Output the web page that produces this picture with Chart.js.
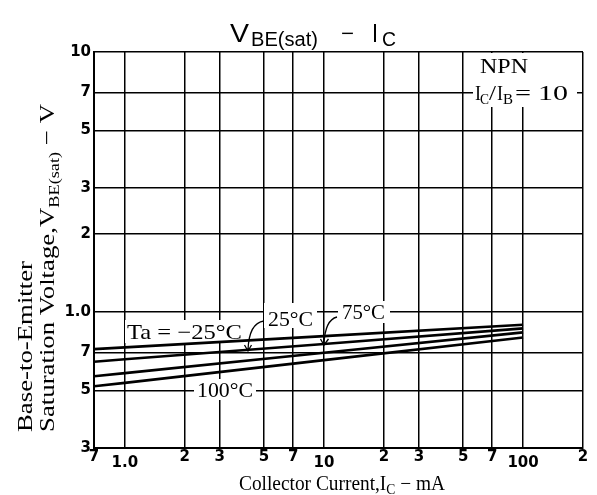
<!DOCTYPE html>
<html><head><meta charset="utf-8">
<script src="https://cdn.jsdelivr.net/npm/chart.js@4/dist/chart.umd.min.js"></script>
<style>html,body{margin:0;padding:0;background:#fff}canvas{display:block}</style>
</head><body>
<canvas id="c" width="597" height="495"></canvas>
<script>
// ---- data ----
const currentMA = [0.7, 1, 10, 100];
const vTaM25 = [0.72, 0.731, 0.808, 0.893];
const vTa25 = [0.644, 0.658, 0.754, 0.865];
const vTa75 = [0.566, 0.582, 0.697, 0.835];
const vTa100 = [0.518, 0.534, 0.653, 0.798];
const seriesNames = ['Ta = −25°C', '25°C', '75°C', '100°C'];
const xTickValues = [0.7, 1, 2, 3, 5, 7, 10, 20, 30, 50, 70, 100, 200];
const xTickLabels = ['7', '1.0', '2', '3', '5', '7', '10', '2', '3', '5', '7', '100', '2'];
const yTickValues = [0.3, 0.5, 0.7, 1, 2, 3, 5, 7, 10];
const yTickLabels = ['3', '5', '7', '1.0', '2', '3', '5', '7', '10'];
const decadeX = [1, 10, 100];

const SERIF = '"Liberation Serif","Times New Roman",serif';
const SANS = '"Liberation Sans",Arial,sans-serif';

function pts(ys){ return currentMA.map((x,i)=>({x:x, y:ys[i]})); }

// draw text starting at x (baseline y), stretched horizontally to targetW
function fit(ctx, s, x, y, size, targetW, font){
  ctx.save();
  ctx.font = size + 'px ' + (font || SERIF);
  ctx.textBaseline = 'alphabetic';
  ctx.textAlign = 'left';
  const w = ctx.measureText(s).width;
  const sx = targetW ? targetW / w : 1;
  ctx.translate(x, y);
  ctx.scale(sx, 1);
  ctx.fillStyle = '#000';
  ctx.fillText(s, 0, 0);
  ctx.restore();
  return w * sx;
}
// composite text with subscripts: parts [{t, sub}]
function compose(ctx, parts, x, y, size, subSize, subDy, targetW, font){
  ctx.save();
  let nat = 0;
  parts.forEach(p => { ctx.font = (p.sub ? subSize : size) + 'px ' + (font || SERIF); nat += ctx.measureText(p.t).width; });
  ctx.restore();
  const sx = targetW / nat;
  let cx = x;
  parts.forEach(p => {
    ctx.save();
    ctx.font = (p.sub ? subSize : size) + 'px ' + (font || SERIF);
    const w = ctx.measureText(p.t).width;
    ctx.restore();
    fit(ctx, p.t, cx, y + (p.sub ? subDy : 0), p.sub ? subSize : size, w * sx, font);
    cx += w * sx;
  });
}

const deco = {
  id: 'deco',
  beforeDatasetsDraw(chart){
    const ctx = chart.ctx;
    ctx.save();
    ctx.fillStyle = '#fff';
    ctx.fillRect(125, 320, 120, 23);   // Ta = -25°C
    ctx.fillRect(264, 303, 53, 25);    // 25°C
    ctx.fillRect(338, 301, 52, 22);    // 75°C
    ctx.fillRect(194, 379, 62, 21);    // 100°C
    ctx.fillRect(473, 53, 104, 54);    // NPN box
    ctx.restore();
  },
  afterDatasetsDraw(chart){
    const ctx = chart.ctx;
    fit(ctx, seriesNames[0], 127, 339, 21, 115);
    fit(ctx, seriesNames[1], 268, 326, 20, 45);
    fit(ctx, seriesNames[2], 342, 319, 20, 43);
    fit(ctx, seriesNames[3], 197, 397, 20, 56);
    fit(ctx, 'NPN', 480, 73, 20, 48);
    // I_C/I_B = 10
    fit(ctx, 'I', 475, 100, 20, 6);
    fit(ctx, 'C', 480, 104, 14, 9);
    fit(ctx, '/', 489, 100, 20, 7);
    fit(ctx, 'I', 497, 100, 20, 6);
    fit(ctx, 'B', 503, 104, 14, 10);
    fit(ctx, '=', 515, 100, 20, 16);
    fit(ctx, '10', 538, 100, 20, 30);
    // leaders
    ctx.save();
    ctx.strokeStyle = '#000';
    ctx.lineWidth = 1.3;
    ctx.beginPath();
    ctx.moveTo(264, 321); ctx.quadraticCurveTo(249, 323, 248, 350);
    ctx.moveTo(244.5, 345); ctx.lineTo(248, 351); ctx.lineTo(251.5, 345);
    ctx.moveTo(337, 317); ctx.quadraticCurveTo(325, 320, 324, 344);
    ctx.moveTo(320.5, 339); ctx.lineTo(324, 345); ctx.lineTo(328.5, 339);
    ctx.stroke();
    ctx.restore();
  },
  afterDraw(chart){
    const ctx = chart.ctx;
    // title  V_BE(sat) − I_C
    fit(ctx, 'V', 230, 42, 26, 19, SANS);
    fit(ctx, 'BE(sat)', 251, 46, 20, 67, SANS);
    fit(ctx, '−', 341, 40, 20, 13, SANS);
    fit(ctx, 'I', 372, 42, 26, 6, SANS);
    fit(ctx, 'C', 382, 46, 20, 14, SANS);
    // x title
    compose(ctx, [{t:'Collector Current,I'}, {t:'C', sub:true}, {t:' − mA'}], 239, 490, 20, 14, 4, 206);
    // y title (rotated)
    ctx.save();
    ctx.translate(32, 432);
    ctx.rotate(-Math.PI/2);
    fit(ctx, 'Base-to-Emitter', 0, 0, 22, 171);
    ctx.restore();
    ctx.save();
    ctx.translate(54, 432);
    ctx.rotate(-Math.PI/2);
    compose(ctx, [{t:'Saturation Voltage,V'}, {t:'BE(sat)', sub:true}, {t:' − V'}], 0, 0, 22, 15, 5, 328);
    ctx.restore();
  }
};

const lineStyle = {borderColor:'#000', borderWidth:2.6, pointRadius:0, fill:false, tension:0};

new Chart(document.getElementById('c'), {
  type: 'line',
  data: {
    datasets: [
      Object.assign({label: seriesNames[0], data: pts(vTaM25)}, lineStyle),
      Object.assign({label: seriesNames[1], data: pts(vTa25)}, lineStyle),
      Object.assign({label: seriesNames[2], data: pts(vTa75)}, lineStyle),
      Object.assign({label: seriesNames[3], data: pts(vTa100)}, lineStyle)
    ]
  },
  options: {
    responsive: false,
    animation: false,
    devicePixelRatio: 1,
    layout: {padding: {top: 52, right: 14, left: 0, bottom: 0}},
    plugins: {legend: {display: false}, title: {display: false}, tooltip: {enabled: false}},
    scales: {
      x: {
        type: 'logarithmic', min: 0.7, max: 200,
        afterBuildTicks: s => { s.ticks = xTickValues.map(v => ({value: v})); },
        afterFit: s => { s.height = 47; },
        grid: {color: '#000', lineWidth: 1.5, drawTicks: false},
        border: {color: '#000', width: 2},
        ticks: {
          autoSkip: false, maxRotation: 0, minRotation: 0, padding: 0, color: '#000',
          font: ctx => {
            const v = ctx.tick ? ctx.tick.value : 0;
            const isDec = decadeX.some(d => Math.abs(d - v) < 1e-9);
            return {family: '"DejaVu Sans",sans-serif', size: 15, weight: 'bold', lineHeight: isDec ? 2.07 : 1.2};
          },
          callback: (v, i) => xTickLabels[i]
        }
      },
      y: {
        type: 'logarithmic', min: 0.3, max: 10,
        afterBuildTicks: s => { s.ticks = yTickValues.map(v => ({value: v})); },
        afterFit: s => { s.width = 94; },
        grid: {color: '#000', lineWidth: 1.5, drawTicks: false},
        border: {color: '#000', width: 2},
        ticks: {
          autoSkip: false, padding: 3, color: '#000',
          font: {family: '"DejaVu Sans",sans-serif', size: 15, weight: 'bold'},
          callback: (v, i) => yTickLabels[i]
        }
      }
    }
  },
  plugins: [deco]
});
</script>
</body></html>
